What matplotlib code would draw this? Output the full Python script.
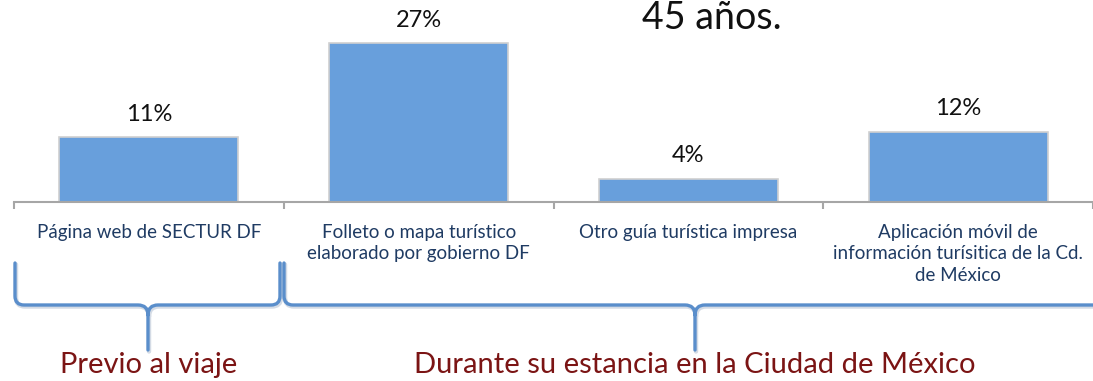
import matplotlib
matplotlib.use("Agg")
import matplotlib.pyplot as plt
from matplotlib.path import Path
from matplotlib.patches import PathPatch
from matplotlib.transforms import Affine2D

# Data
categories = [
    "Página web de SECTUR DF",
    "Folleto o mapa turístico\nelaborado por gobierno DF",
    "Otro guía turística impresa",
    "Aplicación móvil de\ninformación turísitica de la Cd.\nde México",
]
values = [11, 27, 4, 12]
value_labels = ["11%", "27%", "4%", "12%"]
title_text = "45 años."
group_labels = ["Previo al viaje", "Durante su estancia en la Ciudad de México"]

W, H = 1093, 381
DPI = 100
bar_color = "#689FDC"
axis_gray = "#A6A6A6"
label_color = "#1F3B63"
group_color = "#7B1414"
brace_color = "#5A8ECB"

fig = plt.figure(figsize=(W / DPI, H / DPI), dpi=DPI)
fig.patch.set_facecolor("white")

# Main bar axes: baseline at y=202 px from the top, spanning x 14..1093
ax_left, ax_right = 14, 1093
base_y = 202
ax = fig.add_axes([ax_left / W, (H - base_y) / H, (ax_right - ax_left) / W, base_y / H])
ax.set_xlim(-0.5, len(categories) - 0.5)
ax.set_ylim(0, 34.4)

x = list(range(len(categories)))
ax.bar(x, values, width=0.664, color=bar_color, edgecolor="#D0D0D0",
       linewidth=1.2, zorder=2)

for xi, v, lab in zip(x, values, value_labels):
    ax.annotate(lab, (xi, v), xytext=(0, 16.5), textcoords="offset points",
                ha="center", va="center", fontsize=17, family="Lato",
                color="#111111")

for s in ["top", "right", "left"]:
    ax.spines[s].set_visible(False)
ax.spines["bottom"].set_color(axis_gray)
ax.spines["bottom"].set_linewidth(1.5)
ax.set_yticks([])
ax.set_xticks(x)
ax.set_xticklabels(categories, fontsize=13.5, family="Lato", color=label_color,
                   linespacing=1.35, va="top")
ax.tick_params(axis="x", which="major", length=0, pad=15.5)
ax.set_xticks([i - 0.5 for i in range(len(categories) + 1)], minor=True)
ax.tick_params(axis="x", which="minor", length=5, width=1.5, color=axis_gray)

# Overlay in pixel coordinates for the title, braces and group labels
ov = fig.add_axes([0, 0, 1, 1], facecolor="none")
ov.set_xlim(0, W)
ov.set_ylim(H, 0)
ov.axis("off")

ov.text(712, 18, title_text, ha="center", va="center", fontsize=27,
        family="Lato", color="#111111")


def brace(x0, x1, xm, y_top, y_bar, y_tip, r=9, rs=10):
    verts = [
        (x0, y_top), (x0, y_bar - r), (x0, y_bar), (x0 + r, y_bar),
        (xm - rs, y_bar), (xm, y_bar), (xm, y_bar + rs), (xm, y_tip),
        (xm, y_bar + rs), (xm, y_bar), (xm + rs, y_bar),
        (x1 - r, y_bar), (x1, y_bar), (x1, y_bar - r), (x1, y_top),
    ]
    codes = [
        Path.MOVETO, Path.LINETO, Path.CURVE3, Path.CURVE3,
        Path.LINETO, Path.CURVE3, Path.CURVE3, Path.LINETO,
        Path.MOVETO, Path.CURVE3, Path.CURVE3,
        Path.LINETO, Path.CURVE3, Path.CURVE3, Path.LINETO,
    ]
    p = Path(verts, codes)
    shadow = PathPatch(p, facecolor="none", edgecolor="#B8C4D4", lw=3.2,
                       capstyle="round", joinstyle="round", alpha=0.6,
                       transform=ov.transData + Affine2D().translate(1, -1.5))
    ov.add_patch(shadow)
    ov.add_patch(PathPatch(p, facecolor="none", edgecolor=brace_color, lw=2.4,
                           capstyle="round", joinstyle="round"))


brace(15, 280, 148, 263, 305, 350)
brace(284, 1120, 695, 263, 305, 350)

ov.text(149, 365, group_labels[0], ha="center", va="center", fontsize=21,
        family="Lato", color=group_color)
ov.text(695, 365, group_labels[1], ha="center", va="center", fontsize=21,
        family="Lato", color=group_color)

fig.savefig("out.png", dpi=DPI, facecolor="white")
